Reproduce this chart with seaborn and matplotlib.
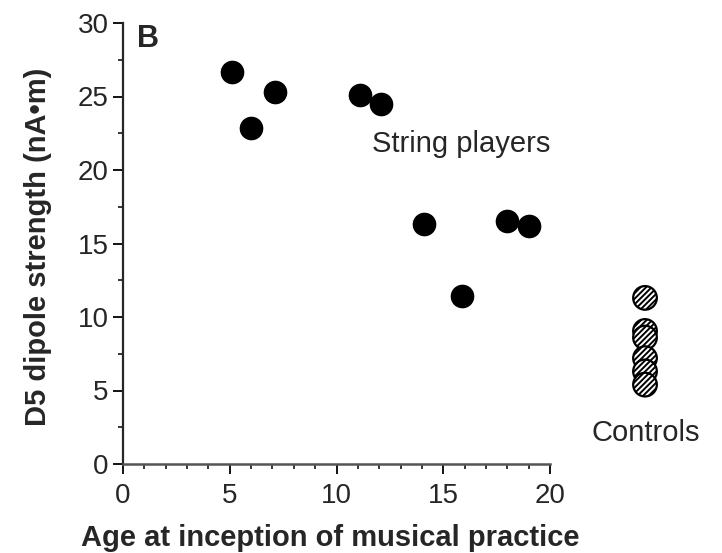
import matplotlib
matplotlib.use("Agg")
import matplotlib.pyplot as plt
import seaborn as sns
import pandas as pd
from matplotlib.ticker import MultipleLocator, FixedLocator

# Data
player_age = [5.1, 6.0, 7.1, 11.1, 12.1, 14.1, 15.9, 18.0, 19.0]
player_strength = [26.65, 22.85, 25.3, 25.1, 24.5, 16.3, 11.4, 16.5, 16.2]
control_x = [24.45, 24.45, 24.45, 24.45, 24.45, 24.45]
control_strength = [11.3, 9.05, 8.6, 7.2, 6.3, 5.4]

x_ticks = [0, 5, 10, 15, 20]
x_minor = list(range(0, 21))
y_ticks = [0, 5, 10, 15, 20, 25, 30]

players = pd.DataFrame({"age": player_age, "strength": player_strength})
controls = pd.DataFrame({"age": control_x, "strength": control_strength})

sns.set_style("ticks")
plt.rcParams["font.family"] = ["Liberation Sans", "DejaVu Sans"]
plt.rcParams["hatch.linewidth"] = 1.4

W, H = 722, 553
fig = plt.figure(figsize=(W / 100, H / 100), dpi=100)
x0, x20 = 123, 550
y0, y30 = 464, 23
ax = fig.add_axes([x0 / W, 1 - y0 / H, (W - x0) / W, (y0 - y30) / H])
ax.set_xlim(0, 20 * (W - x0) / (x20 - x0))
ax.set_ylim(0, 30)

sns.scatterplot(data=players, x="age", y="strength", ax=ax, color="black",
                s=290, edgecolor="black", linewidth=0, zorder=3, clip_on=False)
sns.scatterplot(data=controls, x="age", y="strength", ax=ax, color="white",
                s=290, edgecolor="black", linewidth=1.6, hatch="//////",
                zorder=3, clip_on=False)

ax.text(11.65, 21.8, "String players", fontsize=21, ha="left", va="center")
ax.text(24.5, 2.1, "Controls", fontsize=21, ha="center", va="center")
ax.text(0.65, 29.9, "B", fontsize=22, fontweight="bold", ha="left", va="top")

for s in ["top", "right"]:
    ax.spines[s].set_visible(False)
ax.spines["left"].set_bounds(0, 30)
ax.spines["bottom"].set_bounds(0, 20)
ax.spines["left"].set_linewidth(1.6)
ax.spines["bottom"].set_linewidth(1.8)
ax.spines["bottom"].set_color("#555555")

ax.set_xticks(x_ticks)
ax.set_yticks(y_ticks)
ax.xaxis.set_minor_locator(FixedLocator(x_minor))
ax.yaxis.set_minor_locator(MultipleLocator(2.5))
ax.tick_params(which="major", length=7, width=1.3, labelsize=20, color="black")
ax.tick_params(axis="x", which="major", pad=7)
ax.tick_params(which="minor", length=3.5, width=1.1, color="black")

ax.set_xlabel("Age at inception of musical practice", fontsize=21, fontweight="bold")
ax.set_ylabel("D5 dipole strength (nA•m)", fontsize=21, fontweight="bold")
ax.xaxis.set_label_coords((330 - x0) / (W - x0), -(538 - y0) / (y0 - y30))
ax.yaxis.set_label_coords(-(x0 - 38) / (W - x0), (y0 - 247) / (y0 - y30))
ax.xaxis.label.set_va("center")
ax.yaxis.label.set_ha("center")
ax.yaxis.label.set_va("center")

fig.savefig("out.png", dpi=100)
